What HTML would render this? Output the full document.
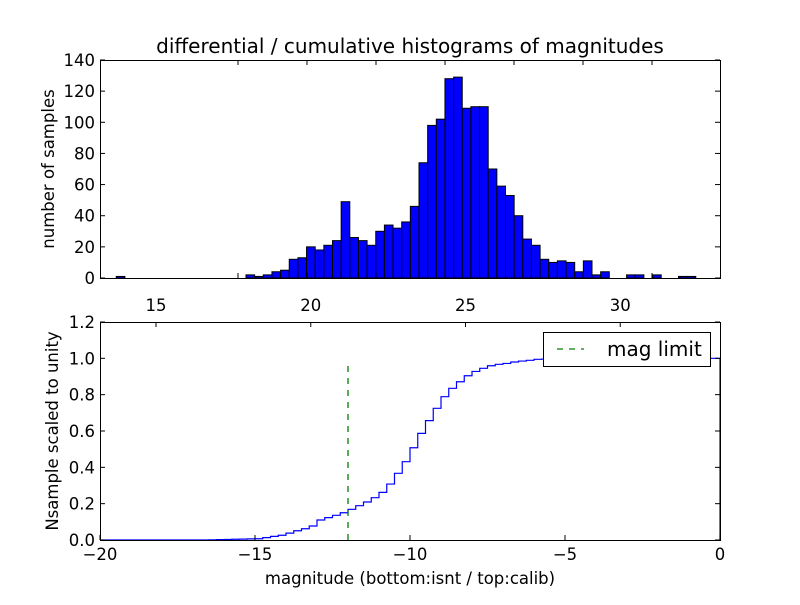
<!DOCTYPE html>
<html><head><meta charset="utf-8"><style>
html,body{margin:0;padding:0;background:#fff;}
svg text{font-family:"DejaVu Sans","Liberation Sans",sans-serif;fill:#000;}
</style></head><body>
<svg id="chart" width="800" height="600" viewBox="0 0 800 600" xmlns="http://www.w3.org/2000/svg">
<rect width="800" height="600" fill="#fff"/>
<text x="410" y="53" font-size="20" text-anchor="middle">differential / cumulative histograms of magnitudes</text>
<g id="topAxes"></g>
<g id="bottomAxes"></g>
<text transform="translate(54,169) rotate(-90)" font-size="16.5" text-anchor="middle">number of samples</text>
<text transform="translate(58,431) rotate(-90)" font-size="16.5" text-anchor="middle">Nsample scaled to unity</text>
<text x="410" y="584" font-size="16.5" text-anchor="middle">magnitude (bottom:isnt / top:calib)</text>
<g id="legendGroup">
<rect x="543.5" y="332.5" width="167" height="34" fill="#fff" stroke="#000" stroke-width="1"/>
<line x1="557" y1="349" x2="584" y2="349" stroke="#008000" stroke-width="1.3" stroke-dasharray="6,6"/>
<text x="607" y="356" font-size="20">mag limit</text>
</g>
</svg>
<script>
// Top histogram data (bin counts)
const binCounts = [1,0,0,0,0,0,0,0,0,0,0,0,0,0,0,2,1,2,4,5,12,13,20,18,21,24,49,26,24,21,30,34,32,36,46,74,98,102,128,129,109,110,110,70,59,53,40,25,21,12,10,11,10,4,11,2,4,0,0,2,2,0,2,0,0,1,1];
const topYTicks = [0,20,40,60,80,100,120,140];
const midTickLabels = [15,20,25,30];
// Bottom cumulative data
const cumStart = -16.5;
const cumStep = 0.25;
const cumValues = [0.001,0.002,0.003,0.004,0.005,0.006,0.007,0.013,0.02,0.026,0.038,0.051,0.062,0.077,0.110,0.123,0.136,0.150,0.169,0.189,0.209,0.233,0.262,0.308,0.367,0.431,0.508,0.587,0.657,0.725,0.789,0.835,0.871,0.904,0.928,0.945,0.959,0.967,0.972,0.980,0.985,0.989,0.9945,0.996,0.996,0.997,0.997,0.997,0.998,0.998,0.998,0.998,0.999,0.999,0.999,0.999,0.999,0.999,1.0,1.0,1.0,1.0,1.0,1.0,1.0,1.0];
const magLimit = -12;
const magLimitTop = 0.97;
const botXTicks = [-20,-15,-10,-5,0];
const botYTicks = [0.0,0.2,0.4,0.6,0.8,1.0,1.2];

const NS='http://www.w3.org/2000/svg';
function mk(parent,tag,attrs,text){const e=document.createElementNS(NS,tag);for(const k in attrs)e.setAttribute(k,attrs[k]);if(text!==undefined)e.textContent=text;parent.appendChild(e);return e;}

// ---- top axes
const T={l:100,r:720,t:60,b:278};
const xTop=i=>116.25+i*8.65;
const yTop=v=>T.b-(v/140)*(T.b-T.t);
const topG=document.getElementById('topAxes');
binCounts.forEach((c,i)=>{
  if(c<=0)return;
  const y=yTop(c);
  const r=mk(topG,'rect',{x:xTop(i),y:y,width:8.65,height:T.b-y,fill:'#0000ff',stroke:'#000','stroke-width':1});
  
  
});
const tf=mk(topG,'rect',{x:T.l+0.5,y:T.t+0.5,width:T.r-T.l,height:T.b-T.t,fill:'none',stroke:'#000','stroke-width':1});


topYTicks.forEach(v=>{
  const y=yTop(v);
  const l1=mk(topG,'line',{x1:T.l,x2:T.l+5,y1:y,y2:y,stroke:'#000'});
  
  
  const l2=mk(topG,'line',{x1:T.r-5,x2:T.r,y1:y,y2:y,stroke:'#000'});
  
  
  const t=mk(topG,'text',{x:T.l-5,y:y+6,'font-size':16.5,'text-anchor':'end'},String(v));
  
  
});
for(let k=0;k<7;k++){
  const x=238+69*k;
  const a=mk(topG,'line',{x1:x,x2:x,y1:T.t,y2:T.t+5,stroke:'#000'});
  
  
  const b=mk(topG,'line',{x1:x,x2:x,y1:T.b-5,y2:T.b,stroke:'#000'});
  
  
}

// ---- bottom axes
const B={l:100,r:720,t:322,b:540};
const xBot=m=>B.l+(m+20)/20*(B.r-B.l);
const yBot=v=>B.b-(v/1.2)*(B.b-B.t);
const botG=document.getElementById('bottomAxes');
midTickLabels.forEach(v=>{
  const x=156+(v-15)*30.95;
  const t=mk(botG,'text',{x:x,y:311,'font-size':16.5,'text-anchor':'middle'},String(v));
  
  
  const l=mk(botG,'line',{x1:x,x2:x,y1:B.t,y2:B.t+5,stroke:'#000'});
  
  
});
let d='M'+xBot(-20)+','+yBot(0)+' L'+xBot(cumStart)+','+yBot(0);
cumValues.forEach((v,i)=>{
  const x0=xBot(cumStart+i*cumStep), x1=xBot(cumStart+(i+1)*cumStep);
  d+=' L'+x0+','+yBot(v)+' L'+x1+','+yBot(v);
});
d+=' L'+xBot(0)+','+yBot(0);
const p=mk(botG,'path',{d:d,fill:'none',stroke:'#0000ff','stroke-width':1.2});


const ml=mk(botG,'line',{x1:xBot(magLimit),x2:xBot(magLimit),y1:yBot(0),y2:yBot(magLimitTop),stroke:'#008000','stroke-width':1.3,'stroke-dasharray':'6,6'});


const bf=mk(botG,'rect',{x:B.l+0.5,y:B.t+0.5,width:B.r-B.l,height:B.b-B.t,fill:'none',stroke:'#000','stroke-width':1});


botXTicks.forEach(v=>{
  const x=xBot(v);
  const l=mk(botG,'line',{x1:x,x2:x,y1:B.b-5,y2:B.b,stroke:'#000'});
  
  
  const t=mk(botG,'text',{x:x,y:B.b+20,'font-size':16.5,'text-anchor':'middle'},v<0?'\u2212'+(-v):String(v));
  
  
});
botYTicks.forEach(v=>{
  const y=yBot(v);
  const l=mk(botG,'line',{x1:B.l,x2:B.l+5,y1:y,y2:y,stroke:'#000'});
  
  
  const l2=mk(botG,'line',{x1:B.r-5,x2:B.r,y1:y,y2:y,stroke:'#000'});
  
  
  const t=mk(botG,'text',{x:B.l-5,y:y+6,'font-size':16.5,'text-anchor':'end'},v.toFixed(1));
  
  
});
// keep legend on top
const svgEl=document.getElementById('chart');
svgEl.appendChild(document.getElementById('legendGroup'));
</script>
</body></html>
